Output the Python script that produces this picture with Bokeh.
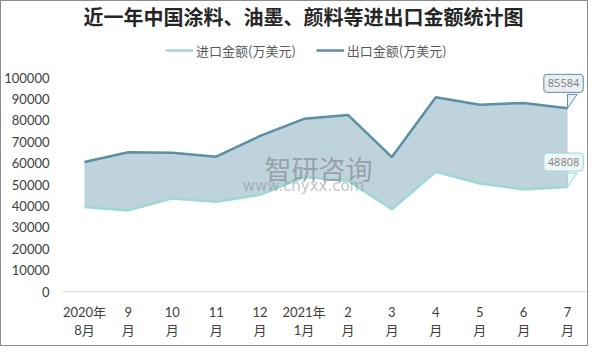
from bokeh.plotting import figure
from bokeh.models import (FactorRange, Range1d, FixedTicker, Label, Legend, LegendItem,
                          NumeralTickFormatter, CategoricalAxis, CustomJSTickFormatter)
from bokeh.embed import file_html
from bokeh.resources import INLINE

# x categories: first line of each tick label, second line below
tick_line1 = ["2020年", "9", "10", "11", "12", "2021年", "2", "3", "4", "5", "6", "7"]
tick_line2 = ["8月", "月", "月", "月", "月", "1月", "月", "月", "月", "月", "月", "月"]
export_vals = [60500, 65100, 64800, 63000, 72700, 80700, 82500, 62800, 90800, 87300, 88100, 85584]
import_vals = [39500, 37900, 43500, 41900, 45200, 53500, 51800, 38400, 55900, 50500, 47700, 48808]
y_ticks = [0, 10000, 20000, 30000, 40000, 50000, 60000, 70000, 80000, 90000, 100000]

W, H = 588, 346
TOP, BOTTOM, LEFT, RIGHT = 3, 56, 53, 0
FRAME_H = H - TOP - BOTTOM          # 287
DATA_H = 214                        # pixels spanned by 0..100000
Y_MAX = 100000
y_end = Y_MAX * FRAME_H / DATA_H

EXP_C = "#5B8FA4"
IMP_C = "#9DD8D3"
FILL_C = "#BED3DC"
CJK = "Noto Sans CJK SC"
AXIS_FONT = "Lato, 'Noto Sans CJK SC'"

p = figure(width=W, height=H, output_backend="svg", toolbar_location=None,
           x_range=FactorRange(factors=tick_line1, range_padding=0),
           y_range=Range1d(0, y_end),
           min_border_left=LEFT, min_border_right=RIGHT, min_border_top=TOP,
           min_border_bottom=BOTTOM)
p.styles = {"border": "1px solid #8c8c8c"}
p.outline_line_color = None
p.background_fill_color = "white"
p.border_fill_color = "white"
p.xgrid.grid_line_color = None
p.ygrid.grid_line_color = None

p.varea(x=tick_line1, y1=import_vals, y2=export_vals, fill_color=FILL_C)
r_imp = p.line(tick_line1, import_vals, line_color=IMP_C, line_width=2.5)
r_exp = p.line(tick_line1, export_vals, line_color=EXP_C, line_width=2.5)

# y axis
p.yaxis.ticker = FixedTicker(ticks=y_ticks)
p.yaxis.formatter = NumeralTickFormatter(format="0")
p.yaxis.axis_line_color = None
p.yaxis.major_tick_line_color = None
p.yaxis.minor_tick_line_color = None
p.yaxis.major_tick_out = 0
p.yaxis.major_tick_in = 0
p.yaxis.major_label_standoff = 13
p.yaxis.major_label_text_font = "Lato"
p.yaxis.major_label_text_font_size = "13px"
p.yaxis.major_label_text_color = "#404040"

# x axis: two stacked axes for the two label lines
xa = p.xaxis[0]
xa.axis_line_color = "#D9D9D9"
xa.axis_line_width = 1
xa.major_tick_line_color = None
xa.minor_tick_line_color = None
xa.major_tick_out = 0
xa.major_tick_in = 0
xa.major_label_text_font = AXIS_FONT
xa.major_label_text_font_size = "13px"
xa.major_label_text_color = "#404040"
xa.major_label_standoff = 12

xa2 = CategoricalAxis(axis_line_color=None, major_tick_line_color=None,
                      minor_tick_line_color=None, major_tick_out=0, major_tick_in=0,
                      formatter=CustomJSTickFormatter(
                          args=dict(f=tick_line1, l=tick_line2),
                          code="return l[f.indexOf(tick)];"),
                      major_label_text_font=AXIS_FONT, major_label_text_font_size="13px",
                      major_label_text_color="#404040", major_label_standoff=-1)
p.add_layout(xa2, "below")

# legend (inside the frame's upper margin)
legend = Legend(items=[LegendItem(label="进口金额(万美元)", renderers=[r_imp]),
                       LegendItem(label="出口金额(万美元)", renderers=[r_exp])],
                orientation="horizontal", location=(103, FRAME_H - 56),
                border_line_color=None, background_fill_alpha=0,
                padding=0, margin=0, spacing=20, glyph_width=28, label_standoff=3,
                label_text_font=CJK, label_text_font_size="13px", label_text_color="#595959")
p.add_layout(legend, "center")

# title (screen units are relative to the frame)
p.add_layout(Label(x=241, y=FRAME_H - 12, x_units="screen", y_units="screen",
                   text="近一年中国涂料、油墨、颜料等进出口金额统计图",
                   text_font=CJK, text_font_size="20px", text_font_style="bold",
                   text_color="#262626", text_align="center", text_baseline="middle"))

# watermark
p.add_layout(Label(x=202, y=123, x_units="screen", y_units="screen",
                   text="智研咨询", text_font=CJK, text_font_size="27px",
                   text_color="#8A9298", text_alpha=0.75, text_align="left", text_baseline="middle"))
p.add_layout(Label(x=241, y=106, x_units="screen", y_units="screen",
                   text="www.chyxx.com", text_font="DejaVu Sans", text_font_size="15px",
                   text_color="#8A9298", text_alpha=0.55, text_align="center", text_baseline="middle"))

# callouts on last points
last = len(tick_line1) - 1
xc = last + 0.5
px = Y_MAX / DATA_H
for val, border, bg in [(export_vals[last], EXP_C, "#E8EEF1"), (import_vals[last], IMP_C, "#EDF7F6")]:
    p.add_layout(Label(x=xc, y=val, text=str(val), x_offset=-4, y_offset=25,
                       text_font="Open Sans", text_font_size="11px", text_color="#7F7F7F",
                       text_align="center", text_baseline="middle",
                       background_fill_color=bg, border_line_color=border, border_line_width=1,
                       padding=(4, 5), border_radius=3))
    p.patch(x=[xc, xc, xc + 0.22], y=[val, val + 14 * px, val + 14 * px],
            fill_color=bg, line_color=border, line_width=1)

open("out.html", "w").write(file_html(p, INLINE))
